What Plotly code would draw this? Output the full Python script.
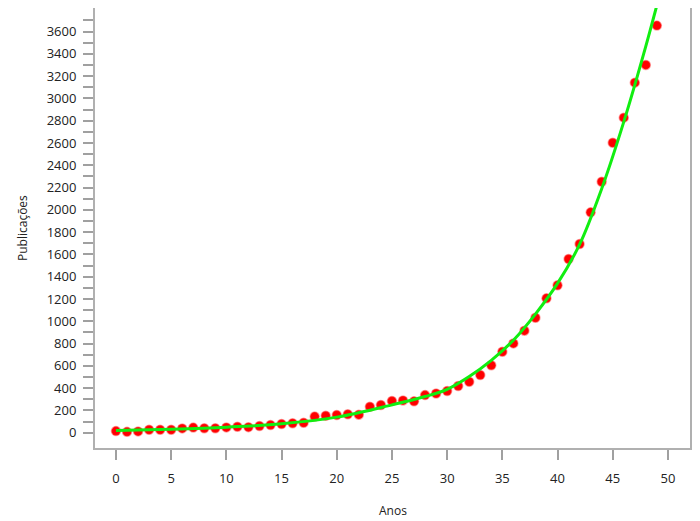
import plotly.graph_objects as go

anos = list(range(50))
publicacoes = [15, 8, 12, 27, 27, 27, 39, 46, 40, 40,
               48, 54, 50, 60, 69, 78, 85, 90, 145, 152,
               159, 166, 162, 233, 249, 285, 290, 282, 338, 352,
               375, 419, 458, 518, 605, 727, 802, 916, 1032, 1206,
               1323, 1559, 1694, 1978, 2253, 2603, 2828, 3142, 3301, 3654]

# Fitted curve (green) at selected years
ajuste_anos = [0, 5, 10, 15, 20, 25, 28, 30, 32, 34, 36, 38, 40, 42, 44, 46, 48, 49.3]
ajuste_valores = [20, 32, 50, 80, 140, 250, 325, 390, 505, 650, 830, 1065, 1340, 1690, 2190, 2790, 3470, 3950]

x_ticks = [0, 5, 10, 15, 20, 25, 30, 35, 40, 45, 50]
y_ticks = list(range(0, 3601, 200))

font_family = "Open Sans, Noto Sans, sans-serif"

fig = go.Figure()
fig.add_trace(go.Scatter(
    x=anos, y=publicacoes, mode="markers",
    marker=dict(color="#ff0000", size=9,
                line=dict(color="rgba(255,60,60,0.45)", width=1.5)),
    showlegend=False, cliponaxis=True,
))
fig.add_trace(go.Scatter(
    x=ajuste_anos, y=ajuste_valores, mode="lines",
    line=dict(color="#11ee11", width=3, shape="spline", smoothing=1.0),
    showlegend=False, cliponaxis=True,
))

# The page body adds an 8px offset, so the figure is sized to fit the window
fig.update_layout(
    width=692, height=513,
    margin=dict(l=87, r=10, t=0, b=73),
    paper_bgcolor="white", plot_bgcolor="white",
    font=dict(family=font_family, size=13, color="#222222"),
    xaxis=dict(
        range=[-1.9, 52], tickvals=x_ticks, ticktext=[str(v) for v in x_ticks],
        showgrid=False, zeroline=False, automargin=False,
        showline=True, mirror=True, linecolor="#b0b0b0", linewidth=2,
        ticks="outside", ticklen=10, tickwidth=2, tickcolor="#a0a0a0",
        ticklabelstandoff=7,
    ),
    yaxis=dict(
        range=[-137, 3812], tickvals=y_ticks, ticktext=[str(v) for v in y_ticks],
        showgrid=False, zeroline=False, automargin=False,
        showline=True, mirror=True, linecolor="#b0b0b0", linewidth=2,
        ticks="outside", ticklen=10, tickwidth=2, tickcolor="#a0a0a0",
        ticklabelstandoff=4,
        minor=dict(tickvals=list(range(100, 3800, 200)), ticks="outside",
                   ticklen=10, tickwidth=2, tickcolor="#a0a0a0", showgrid=False),
    ),
    annotations=[
        dict(text="Anos", xref="paper", yref="paper", x=0.5, y=-0.141,
             xanchor="center", yanchor="middle", showarrow=False,
             font=dict(size=12)),
        dict(text="Publicações", xref="paper", yref="paper", x=-0.1227, y=0.5,
             xanchor="center", yanchor="middle", textangle=-90, showarrow=False,
             font=dict(size=12)),
    ],
)

fig.write_html("out.html")
